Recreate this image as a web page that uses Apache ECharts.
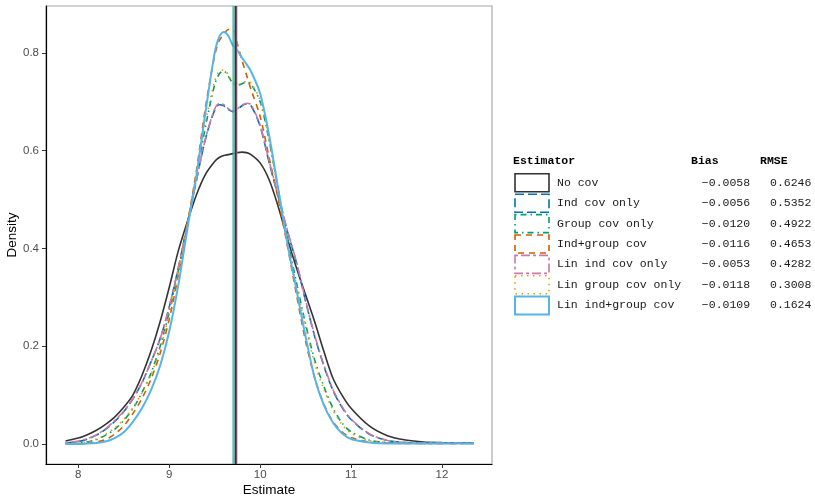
<!DOCTYPE html>
<html lang="en">
<head>
<meta charset="UTF-8">
<title>Density of estimates</title>
<style>
  html, body { margin: 0; padding: 0; background: #fff; }
  #container { width: 815px; height: 502px; }
</style>
</head>
<body>
<div id="container"></div>
<script src="https://cdn.jsdelivr.net/npm/echarts@6/dist/echarts.min.js"></script>
<script type="text/javascript">
// x grid the densities were read on
var xs = [7.86, 8.0, 8.1, 8.2, 8.3, 8.4, 8.5, 8.6, 8.7, 8.8, 8.9, 9.0, 9.1, 9.2, 9.3, 9.4, 9.5, 9.55, 9.6, 9.65,
          9.7, 9.75, 9.8, 9.85, 9.9, 10.0, 10.1, 10.2, 10.3, 10.4, 10.5, 10.6, 10.7, 10.8, 10.9, 11.0, 11.2, 11.4,
          11.6, 11.8, 12.0, 12.35];

var noCov = [0.006, 0.012, 0.019, 0.028, 0.04, 0.055, 0.075, 0.1, 0.14, 0.19, 0.25, 0.32, 0.395, 0.455, 0.51, 0.552, 0.578, 0.586, 0.59, 0.592,
             0.594, 0.596, 0.597, 0.596, 0.592, 0.575, 0.54, 0.485, 0.42, 0.36, 0.305, 0.25, 0.19, 0.135, 0.1, 0.073, 0.037, 0.017,
             0.008, 0.004, 0.003, 0.002];
var indCov = [0.002, 0.005, 0.01, 0.018, 0.03, 0.046, 0.066, 0.092, 0.125, 0.168, 0.215, 0.28, 0.36, 0.45, 0.54, 0.625, 0.683, 0.694, 0.692, 0.684,
              0.68, 0.684, 0.692, 0.696, 0.692, 0.65, 0.575, 0.505, 0.435, 0.37, 0.292, 0.22, 0.16, 0.11, 0.075, 0.05, 0.02, 0.007,
              0.003, 0.002, 0.002, 0.002];
var groupCov = [0.001, 0.002, 0.004, 0.009, 0.018, 0.03, 0.048, 0.072, 0.105, 0.145, 0.2, 0.27, 0.355, 0.45, 0.55, 0.65, 0.735, 0.757, 0.763, 0.752,
                0.738, 0.733, 0.737, 0.74, 0.736, 0.7, 0.62, 0.52, 0.42, 0.33, 0.245, 0.172, 0.118, 0.074, 0.043, 0.025, 0.008, 0.003,
                0.002, 0.001, 0.001, 0.001];
var indGroupCov = [0.0, 0.001, 0.002, 0.004, 0.009, 0.02, 0.037, 0.062, 0.093, 0.133, 0.185, 0.255, 0.345, 0.45, 0.56, 0.69, 0.795, 0.825, 0.838, 0.848,
                   0.848, 0.818, 0.785, 0.755, 0.725, 0.67, 0.585, 0.5, 0.405, 0.305, 0.21, 0.135, 0.082, 0.046, 0.025, 0.013, 0.004, 0.002,
                   0.001, 0.001, 0.001, 0.001];
var linIndCov = [0.003, 0.006, 0.011, 0.019, 0.031, 0.048, 0.067, 0.093, 0.126, 0.168, 0.215, 0.28, 0.36, 0.45, 0.54, 0.625, 0.685, 0.696, 0.694, 0.686,
                 0.681, 0.686, 0.693, 0.697, 0.694, 0.652, 0.578, 0.508, 0.437, 0.372, 0.294, 0.222, 0.162, 0.112, 0.077, 0.051, 0.021, 0.007,
                 0.003, 0.002, 0.002, 0.002];
var linGroupCov = [0.001, 0.002, 0.004, 0.01, 0.02, 0.033, 0.05, 0.074, 0.105, 0.142, 0.195, 0.265, 0.35, 0.45, 0.555, 0.66, 0.742, 0.762, 0.765, 0.755,
                   0.74, 0.735, 0.738, 0.742, 0.738, 0.703, 0.62, 0.515, 0.415, 0.325, 0.24, 0.165, 0.112, 0.07, 0.04, 0.022, 0.007, 0.003,
                   0.002, 0.001, 0.001, 0.001];
var linIndGroupCov = [0.0, 0.0, 0.001, 0.002, 0.005, 0.012, 0.024, 0.045, 0.073, 0.11, 0.16, 0.23, 0.325, 0.44, 0.55, 0.68, 0.8, 0.833, 0.843, 0.835,
                      0.815, 0.805, 0.79, 0.777, 0.762, 0.717, 0.63, 0.52, 0.41, 0.315, 0.22, 0.135, 0.08, 0.044, 0.022, 0.01, 0.003, 0.001,
                      0.001, 0.001, 0.001, 0.001];

var names = ['No cov', 'Ind cov only', 'Group cov only', 'Ind+group cov', 'Lin ind cov only', 'Lin group cov only', 'Lin ind+group cov'];
var bias = [-0.0058, -0.0056, -0.0120, -0.0116, -0.0053, -0.0118, -0.0109];
var rmse = [0.6246, 0.5352, 0.4922, 0.4653, 0.4282, 0.3008, 0.1624];

// mean estimate lines
var vlineX = [9.700, 9.706, 9.712, 9.722, 9.724, 9.728, 9.745];
var vlineOf = [2, 3, 5, 1, 6, 0, 4];

var xTicks = [8, 9, 10, 11, 12];
var yTicks = [0, 0.2, 0.4, 0.6, 0.8];

var colors = ['#333333', '#0072B2', '#009E73', '#D55E00', '#CC79A7', '#E69F00', '#56B4E9'];
var dashes = ['solid', [9, 4], [1.5, 4, 6, 4], [6, 5], [3, 3, 9, 3], [1.5, 4.5], 'solid'];
var widths = [1.6, 1.6, 1.6, 1.6, 1.6, 1.6, 2];
var allSeries = [noCov, indCov, groupCov, indGroupCov, linIndCov, linGroupCov, linIndGroupCov];

function fmt(v, d) {
    var s = Math.abs(v).toFixed(d);
    return v < 0 ? '\u2212' + s : s;
}

var series = allSeries.map(function (vals, i) {
    return {
        name: names[i],
        type: 'line',
        smooth: 0.3,
        showSymbol: false,
        symbol: 'none',
        lineStyle: { color: colors[i], width: widths[i], type: dashes[i] },
        itemStyle: { color: colors[i] },
        data: xs.map(function (x, k) { return [x, vals[k]]; })
    };
});

series.push({
    name: 'means',
    type: 'line',
    data: [],
    z: 5,
    markLine: {
        silent: true,
        symbol: 'none',
        label: { show: false },
        data: vlineX.map(function (x, k) {
            var s = vlineOf[k];
            return {
                xAxis: x,
                lineStyle: {
                    color: colors[s],
                    width: s === 0 ? 2 : 1.5,
                    type: 'solid',
                    opacity: s === 0 ? 1 : 0.55
                }
            };
        })
    }
});

var monoFont = '"Liberation Mono", "DejaVu Sans Mono", monospace';
var sansFont = '"Liberation Sans", Arial, sans-serif';

var chart = echarts.init(document.getElementById('container'), null, { renderer: 'canvas' });
chart.setOption({
    animation: false,
    backgroundColor: '#fff',
    grid: {
        left: 46, right: 323, top: 6, bottom: 38,
        outerBoundsMode: 'none',
        containLabel: false,
        show: true, borderColor: '#a8a8a8', borderWidth: 1.2
    },
    xAxis: {
        type: 'value',
        min: 7.645, max: 12.55,
        name: 'Estimate',
        nameLocation: 'middle',
        nameGap: 19,
        nameMoveOverlap: false,
        nameTextStyle: { fontFamily: sansFont, fontSize: 13.5, color: '#000' },
        axisLine: { show: true, onZero: false, lineStyle: { color: '#000', width: 1.2 } },
        axisTick: { show: true, length: 4, customValues: xTicks, lineStyle: { color: '#333' } },
        axisLabel: { customValues: xTicks, margin: 5, fontFamily: sansFont, fontSize: 11.5, color: '#4d4d4d' },
        splitLine: { show: false }
    },
    yAxis: {
        type: 'value',
        min: -0.041, max: 0.896,
        name: 'Density',
        nameLocation: 'middle',
        nameGap: 27,
        nameMoveOverlap: false,
        nameTextStyle: { fontFamily: sansFont, fontSize: 13.5, color: '#000' },
        axisLine: { show: true, onZero: false, lineStyle: { color: '#000', width: 1.2 } },
        axisTick: { show: true, length: 4, customValues: yTicks, lineStyle: { color: '#333' } },
        axisLabel: {
            customValues: yTicks, margin: 7, fontFamily: sansFont, fontSize: 11.5, color: '#4d4d4d',
            formatter: function (v) { return v.toFixed(1); }
        },
        splitLine: { show: false }
    },
    legend: {
        orient: 'vertical',
        left: 514, top: 173,
        padding: 0,
        itemWidth: 34, itemHeight: 18, itemGap: 0.8,
        selectedMode: false,
        data: names.map(function (n, i) {
            return {
                name: n,
                icon: 'rect',
                itemStyle: {
                    color: '#fff',
                    borderColor: colors[i],
                    borderWidth: widths[i],
                    borderType: dashes[i]
                }
            };
        }),
        formatter: function (name) {
            var i = names.indexOf(name);
            return '{n|' + name + '}{b|' + fmt(bias[i], 4) + '}{r|' + fmt(rmse[i], 4) + '}';
        },
        textStyle: {
            fontFamily: monoFont, fontSize: 11.5, color: '#1a1a1a', lineHeight: 14,
            rich: {
                n: { fontFamily: monoFont, fontSize: 11.5, lineHeight: 14, width: 140, padding: [0, 0, 0, 3] },
                b: { fontFamily: monoFont, fontSize: 11.5, lineHeight: 14, width: 58, align: 'right' },
                r: { fontFamily: monoFont, fontSize: 11.5, lineHeight: 14, padding: [0, 0, 0, 15] }
            }
        }
    },
    graphic: [
        { type: 'text', left: 513, top: 155, style: { text: 'Estimator', font: 'bold 11.5px ' + monoFont, fill: '#000' } },
        { type: 'text', left: 691, top: 155, style: { text: 'Bias', font: 'bold 11.5px ' + monoFont, fill: '#000' } },
        { type: 'text', left: 760, top: 155, style: { text: 'RMSE', font: 'bold 11.5px ' + monoFont, fill: '#000' } }
    ],
    series: series
});
</script>
</body>
</html>
